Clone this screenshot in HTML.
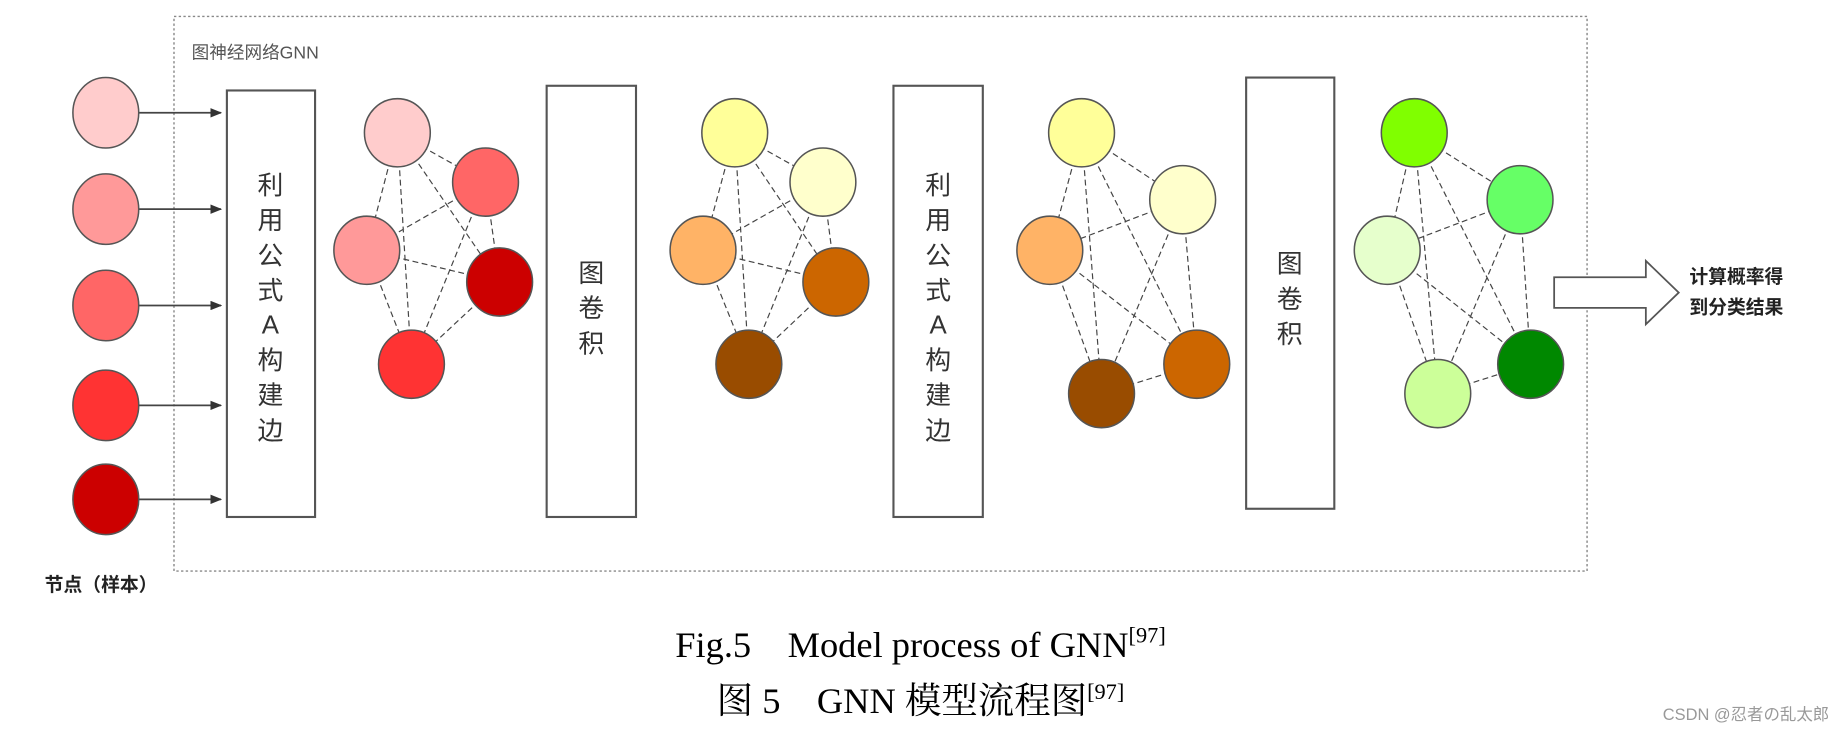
<!DOCTYPE html>
<html><head><meta charset="utf-8"><style>
html,body{margin:0;padding:0;background:#fff;}
svg{display:block;}
</style></head><body>
<svg width="1841" height="732" viewBox="0 0 1566 623" preserveAspectRatio="none" xmlns="http://www.w3.org/2000/svg">
<defs>
<marker id="ah" markerWidth="10" markerHeight="8" refX="9" refY="4" orient="auto" markerUnits="userSpaceOnUse"><path d="M0,0 L10,4 L0,8 z" fill="#333"/></marker>
</defs>
<rect x="148" y="14" width="1202" height="472" fill="none" stroke="#888" stroke-width="1.2" stroke-dasharray="2,2"/>
<text x="163" y="50" font-family="Liberation Sans, Noto Sans CJK SC, sans-serif" font-size="15" fill="#555">图神经网络GNN</text>
<g stroke="#444" stroke-width="1.5" marker-end="url(#ah)">
<line x1="118" y1="96" x2="188" y2="96"/><line x1="118" y1="178" x2="188" y2="178"/><line x1="118" y1="260" x2="188" y2="260"/><line x1="118" y1="345" x2="188" y2="345"/><line x1="118" y1="425" x2="188" y2="425"/>
</g>
<g stroke="#555" stroke-width="1.3">
<ellipse cx="90" cy="96" rx="28" ry="30" fill="#ffcccc"/><ellipse cx="90" cy="178" rx="28" ry="30" fill="#ff9999"/><ellipse cx="90" cy="260" rx="28" ry="30" fill="#ff6666"/><ellipse cx="90" cy="345" rx="28" ry="30" fill="#ff3333"/><ellipse cx="90" cy="425" rx="28" ry="30" fill="#cc0000"/>
</g>
<g fill="#fff" stroke="#555" stroke-width="1.8">
<rect x="193" y="77" width="75" height="363"/><rect x="465" y="73" width="76" height="367"/><rect x="760" y="73" width="76" height="367"/><rect x="1060" y="66" width="75" height="367"/>
</g>
<g font-family="Liberation Sans, Noto Sans CJK SC, sans-serif" font-size="22" fill="#333" text-anchor="middle">
<text x="230" y="165">利</text><text x="230" y="195">用</text><text x="230" y="225">公</text><text x="230" y="255">式</text><text x="230" y="284">A</text><text x="230" y="314">构</text><text x="230" y="344">建</text><text x="230" y="374">边</text>
<text x="503" y="240">图</text><text x="503" y="270">卷</text><text x="503" y="300">积</text>
<text x="798" y="165">利</text><text x="798" y="195">用</text><text x="798" y="225">公</text><text x="798" y="255">式</text><text x="798" y="284">A</text><text x="798" y="314">构</text><text x="798" y="344">建</text><text x="798" y="374">边</text>
<text x="1097" y="232">图</text><text x="1097" y="262">卷</text><text x="1097" y="292">积</text>
</g>
<g stroke="#444" stroke-width="1" stroke-dasharray="5,3" fill="none">
<path d="M338,113L413,155M338,113L312,213M338,113L350,310M338,113L425,240M413,155L312,213M413,155L350,310M413,155L425,240M312,213L425,240M312,213L350,310M425,240L350,310"/>
<path d="M625,113L700,155M625,113L598,213M625,113L637,310M625,113L711,240M700,155L598,213M700,155L637,310M700,155L711,240M598,213L711,240M598,213L637,310M711,240L637,310"/>
<path d="M920,113L1006,170M920,113L893,213M920,113L937,335M920,113L1018,310M1006,170L893,213M1006,170L937,335M1006,170L1018,310M893,213L1018,310M893,213L937,335M937,335L1018,310"/>
<path d="M1203,113L1293,170M1203,113L1180,213M1203,113L1223,335M1203,113L1302,310M1293,170L1180,213M1293,170L1223,335M1293,170L1302,310M1180,213L1302,310M1180,213L1223,335M1223,335L1302,310"/>
</g>
<g stroke="#555" stroke-width="1.3">
<ellipse cx="338" cy="113" rx="28" ry="29" fill="#ffcccc"/><ellipse cx="413" cy="155" rx="28" ry="29" fill="#ff6666"/><ellipse cx="312" cy="213" rx="28" ry="29" fill="#ff9999"/><ellipse cx="425" cy="240" rx="28" ry="29" fill="#cc0000"/><ellipse cx="350" cy="310" rx="28" ry="29" fill="#ff3333"/>
<ellipse cx="625" cy="113" rx="28" ry="29" fill="#ffff99"/><ellipse cx="700" cy="155" rx="28" ry="29" fill="#ffffcc"/><ellipse cx="598" cy="213" rx="28" ry="29" fill="#ffb366"/><ellipse cx="711" cy="240" rx="28" ry="29" fill="#cc6600"/><ellipse cx="637" cy="310" rx="28" ry="29" fill="#994c00"/>
<ellipse cx="920" cy="113" rx="28" ry="29" fill="#ffff99"/><ellipse cx="1006" cy="170" rx="28" ry="29" fill="#ffffcc"/><ellipse cx="893" cy="213" rx="28" ry="29" fill="#ffb366"/><ellipse cx="937" cy="335" rx="28" ry="29" fill="#994c00"/><ellipse cx="1018" cy="310" rx="28" ry="29" fill="#cc6600"/>
<ellipse cx="1203" cy="113" rx="28" ry="29" fill="#80ff00"/><ellipse cx="1293" cy="170" rx="28" ry="29" fill="#66ff66"/><ellipse cx="1180" cy="213" rx="28" ry="29" fill="#e6ffcc"/><ellipse cx="1223" cy="335" rx="28" ry="29" fill="#ccff99"/><ellipse cx="1302" cy="310" rx="28" ry="29" fill="#008800"/>
</g>
<path d="M1322,236 L1400,236 L1400,222 L1428,249 L1400,276 L1400,262 L1322,262 Z" fill="#fff" stroke="#555" stroke-width="1.5"/>
<g font-family="Liberation Sans, Noto Sans CJK SC, sans-serif" font-size="16" font-weight="bold" fill="#222">
<text x="1437" y="241">计算概率得</text><text x="1437" y="267">到分类结果</text>
<text x="38" y="503">节点（样本）</text>
</g>
<g font-family="Liberation Serif, Noto Serif CJK SC, serif" font-size="31" fill="#000" text-anchor="middle">
<text x="783" y="559" xml:space="preserve">Fig.5    Model process of GNN<tspan font-size="19" dy="-12">[97]</tspan></text>
<text x="783" y="607" xml:space="preserve">图 5    GNN 模型流程图<tspan font-size="19" dy="-12">[97]</tspan></text>
</g>
<text x="1556" y="613" text-anchor="end" font-family="Liberation Sans, Noto Sans CJK SC, sans-serif" font-size="14" fill="#999">CSDN @忍者の乱太郎</text>
</svg>
</body></html>
